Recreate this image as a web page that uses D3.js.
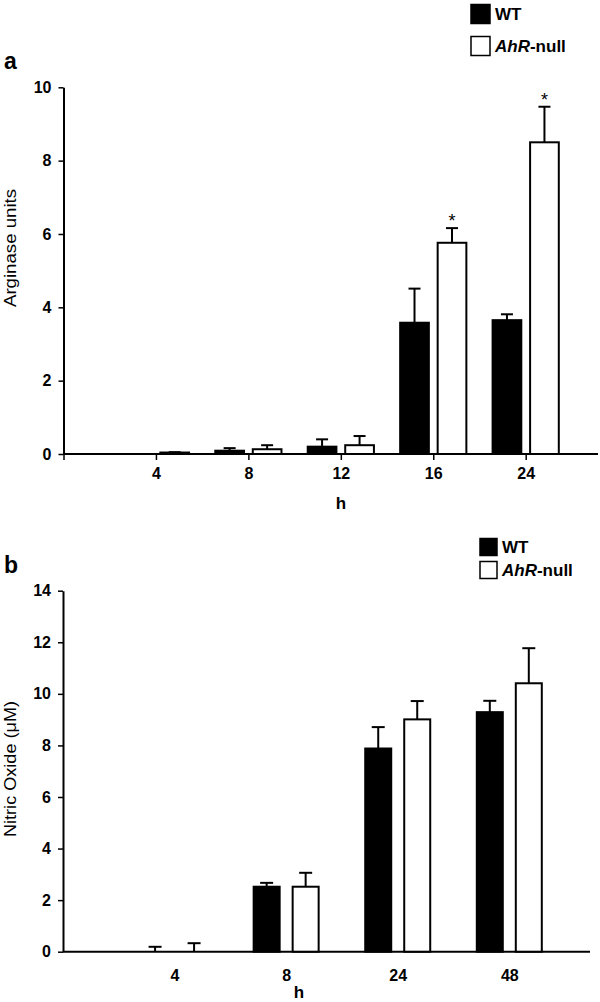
<!DOCTYPE html>
<html><head><meta charset="utf-8">
<script src="https://cdn.jsdelivr.net/npm/d3@7"></script>
<style>body{margin:0;background:#fff;} text{font-family:"Liberation Sans",Arial,sans-serif;fill:#000;}</style>
</head><body><svg id="c" width="600" height="1002"></svg>
<script>
// Panel a: Arginase units
const hoursA = ["4", "8", "12", "16", "24"];
const wtA = [0, 0.09, 0.20, 3.58, 3.65];
const wtAErr = [0, 0.07, 0.20, 0.93, 0.16];
const ahrA = [0.04, 0.13, 0.24, 5.76, 8.50];
const ahrAErr = [0.01, 0.11, 0.25, 0.40, 0.97];
const sigA = [false, false, false, true, true];
const yTicksA = [0, 2, 4, 6, 8, 10];

// Panel b: Nitric Oxide (uM)
const hoursB = ["4", "8", "24", "48"];
const wtB = [0, 2.52, 7.88, 9.29];
const wtBErr = [0.19, 0.15, 0.83, 0.44];
const ahrB = [0, 2.52, 9.01, 10.41];
const ahrBErr = [0.33, 0.54, 0.71, 1.36];
const sigB = [false, false, false, false];
const yTicksB = [0, 2, 4, 6, 8, 10, 12, 14];

const svg = d3.select("#c");
const FF = "Liberation Sans, Arial, sans-serif";

function panel(o) {
  const g = svg.append("g");
  const y = d3.scaleLinear().domain([0, o.yMax]).range(o.yRange);
  const x = d3.scalePoint().domain([""].concat(o.cats)).range(o.xRange);
  const y0 = o.yRange[0];

  // y axis
  const ya = g.append("g").attr("transform", `translate(${o.xRange[0]},0)`)
    .call(d3.axisLeft(y).tickValues(o.yTicks).tickSize(5).tickSizeOuter(0).tickPadding(7));
  ya.select(".domain").attr("stroke-width", 2);
  ya.selectAll(".tick line").attr("stroke-width", 1.5);
  ya.selectAll(".tick text").attr("font-size", 16).attr("font-weight", "bold")
    .attr("font-family", FF).attr("fill", "#000");

  // x axis
  const xa = g.append("g").attr("transform", `translate(0,${y0})`)
    .call(d3.axisBottom(x).tickSize(o.xTickSize).tickSizeOuter(0).tickPadding(0));
  xa.select(".domain").remove();
  xa.selectAll(".tick line").attr("stroke-width", 1.5);
  xa.selectAll(".tick text").attr("font-size", 16).attr("font-weight", "bold")
    .attr("font-family", FF).attr("fill", "#000")
    .attr("y", o.xLabelDy).attr("dy", "0.35em");
  g.append("line").attr("x1", o.xRange[0]).attr("x2", o.axisEnd)
    .attr("y1", y0).attr("y2", y0).attr("stroke", "#000").attr("stroke-width", 2);

  // bars
  const series = [
    {vals: o.wt, errs: o.wtErr, fill: "#000", side: -1},
    {vals: o.ahr, errs: o.ahrErr, fill: "#fff", side: 1}
  ];
  series.forEach(s => {
    o.cats.forEach((c, i) => {
      const cx = x(c);
      const left = s.side < 0 ? cx - o.gap / 2 - o.barW : cx + o.gap / 2;
      const mid = left + o.barW / 2;
      const top = y(s.vals[i]);
      if (s.vals[i] > 0) {
        g.append("rect").attr("x", left + 1).attr("y", top)
          .attr("width", o.barW - 2).attr("height", Math.max(0, y0 - top))
          .attr("fill", s.fill).attr("stroke", "#000").attr("stroke-width", 2);
      }
      if (s.errs[i] > 0) {
        const et = y(s.vals[i] + s.errs[i]);
        g.append("line").attr("x1", mid).attr("x2", mid).attr("y1", top).attr("y2", et)
          .attr("stroke", "#000").attr("stroke-width", 2);
        g.append("line").attr("x1", mid - o.cap / 2).attr("x2", mid + o.cap / 2)
          .attr("y1", et).attr("y2", et).attr("stroke", "#000").attr("stroke-width", 2);
        if (s.side > 0 && o.sig[i]) {
          g.append("text").attr("x", mid).attr("y", et - 1).attr("text-anchor", "middle")
            .attr("font-size", 18).text("*");
        }
      }
    });
  });

  // x title
  g.append("text").attr("x", o.hX).attr("y", o.hY).attr("dy", "0.35em")
    .attr("text-anchor", "middle").attr("font-size", 17).attr("font-weight", "bold").text("h");
  // y title
  g.append("text").attr("transform", `translate(15.5,${o.titleY}) rotate(-90)`)
    .attr("text-anchor", "middle").attr("font-size", 16)
    .attr("textLength", o.titleLen).attr("lengthAdjust", "spacingAndGlyphs").text(o.title);
  // panel letter
  g.append("text").attr("x", 4).attr("y", o.letterY).attr("dy", "0.35em")
    .attr("font-size", 23).attr("font-weight", "bold").text(o.letter);

  // legend
  const L = o.legend;
  [["#000", "WT", L.y1], ["#fff", null, L.y2]].forEach(([f, lab, cy]) => {
    g.append("rect").attr("x", L.x).attr("y", cy - L.size / 2).attr("width", L.size).attr("height", L.size)
      .attr("fill", f).attr("stroke", "#000").attr("stroke-width", 1.5);
    const t = g.append("text").attr("x", L.x + L.size + 5).attr("y", cy).attr("dy", "0.35em")
      .attr("font-size", 17).attr("font-weight", "bold");
    if (lab) t.text(lab);
    else {
      t.append("tspan").attr("font-style", "italic").text("AhR");
      t.append("tspan").text("-null");
    }
  });
}

panel({
  cats: hoursA, wt: wtA, wtErr: wtAErr, ahr: ahrA, ahrErr: ahrAErr, sig: sigA,
  yMax: 10, yTicks: yTicksA, yRange: [454, 87.3], xRange: [63.5, 525.7], axisEnd: 598,
  barW: 30.7, gap: 6.8, cap: 12, xTickSize: 6, xLabelDy: 19,
  hX: 341, hY: 503, title: "Arginase units", titleLen: 118, titleY: 248, letter: "a", letterY: 61,
  legend: {x: 471, y1: 14, y2: 46, size: 19}
});

panel({
  cats: hoursB, wt: wtB, wtErr: wtBErr, ahr: ahrB, ahrErr: ahrBErr, sig: sigB,
  yMax: 14, yTicks: yTicksB, yRange: [951.7, 590.7], xRange: [63, 509.3], axisEnd: 590,
  barW: 28, gap: 11, cap: 13, xTickSize: 0, xLabelDy: 24,
  hX: 299, hY: 992, title: "Nitric Oxide (\u03BCM)", titleLen: 136, titleY: 769, letter: "b", letterY: 565,
  legend: {x: 480, y1: 547, y2: 570, size: 17}
});
</script></body></html>
